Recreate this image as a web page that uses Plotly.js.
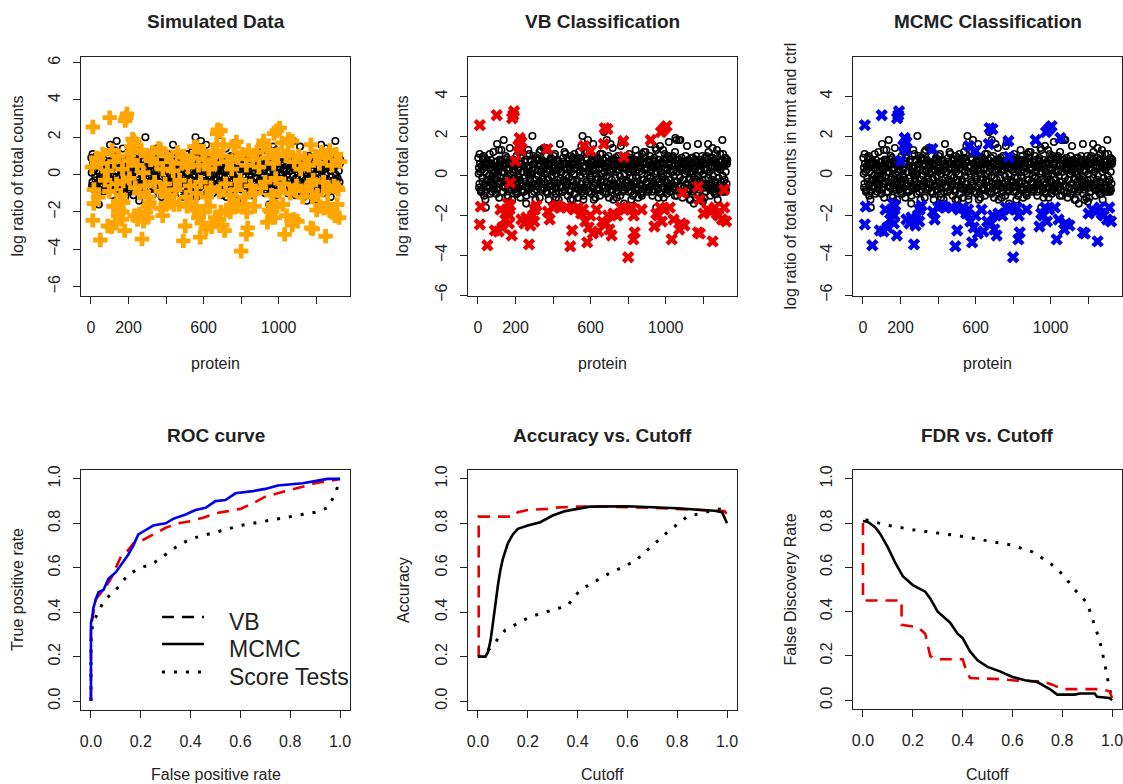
<!DOCTYPE html>
<html><head><meta charset="utf-8">
<script src="https://cdn.plot.ly/plotly-3.0.1.min.js"></script>
<style>html,body{margin:0;padding:0;background:#fff;}#chart{width:1123px;height:784px;}</style>
</head><body><div id="chart"></div>
<script>
// ---------------- DATA ----------------
// Non-differential proteins (index, log ratio)
const nullX = [2,6,9,13,18,21,25,30,33,37,42,45,49,54,57,61,66,69,73,78,
82,85,90,94,97,102,106,109,113,118,121,125,130,133,137,142,145,149,154,158,
161,166,170,173,178,182,185,190,194,197,202,206,209,214,218,221,226,230,233,238,
242,245,250,254,257,262,266,269,274,278,281,286,290,293,298,302,305,310,314,317,
322,326,329,334,338,341,346,350,353,358,362,365,370,374,377,382,386,389,394,398,
401,406,410,413,418,422,425,430,434,437,442,446,449,454,458,461,466,470,473,478,
482,485,490,494,497,502,506,509,514,518,521,526,530,533,538,542,545,550,554,557,
562,566,569,574,578,581,586,590,593,598,602,605,610,614,617,622,626,629,634,638,
641,646,650,653,658,662,665,670,674,677,682,686,689,694,698,701,706,710,713,718,
722,725,730,734,737,742,746,749,754,758,761,766,770,773,778,782,785,790,794,797,
802,806,809,814,818,821,826,830,833,838,842,845,850,854,857,862,866,869,874,878,
881,886,890,893,898,902,905,910,914,917,922,926,929,934,938,941,946,950,953,958,
962,965,970,974,977,982,986,989,994,998,1001,1006,1010,1013,1018,1022,1025,1030,1034,1037,
1042,1046,1049,1054,1058,1061,1066,1070,1073,1078,1082,1085,1090,1094,1097,1102,1106,1109,1114,1118,
1121,1126,1130,1133,1138,1142,1145,1150,1154,1157,1162,1166,1169,1174,1178,1181,1186,1190,1193,1198,
1202,1205,1210,1214,1217,1222,1226,1229,1234,1238,1241,1246,1250,1253,1258,1262,1265,1270,1274,1277,
1282,1285,1290,1294,1297,1302,1306,1309,1314,1318,1321,1326,
4,8,11,16,20,23,27,32,35,39,44,47,51,56,59,63,68,71,76,80,
84,88,92,96,100,104,108,111,116,120,123,128,132,135,140,144,147,152,156,160,
164,168,172,176,180,184,188,192,196,200,204,208,212,216,220,224,228,232,236,240,
244,248,252,256,260,264,268,272,276,280,284,288,292,296,300,304,308,312,316,320,
324,328,332,336,340,344,348,352,356,360,364,368,372,376,380,384,388,392,396,400,
404,408,412,416,420,424,428,432,436,440,444,448,452,456,460,464,468,472,476,480,
484,488,492,496,500,504,508,512,516,520,524,528,532,536,540,544,548,552,556,560,
564,568,572,576,580,584,588,592,596,600,604,608,612,616,620,624,628,632,636,640,
644,648,652,656,660,664,668,672,676,680,684,688,692,696,700,704,708,712,716,720,
724,728,732,736,740,744,748,752,756,760,764,768,772,776,780,784,788,792,796,800,
804,808,812,816,820,824,828,832,836,840,844,848,852,856,860,864,868,872,876,880,
884,888,892,896,900,904,908,912,916,920,924,928,932,936,940,944,948,952,956,960,
964,968,972,976,980,984,988,992,996,1000,1004,1008,1012,1016,1020,1024,1028,1032,1036,1040,
1044,1048,1052,1056,1060,1064,1068,1072,1076,1080,1084,1088,1092,1096,1100,1104,1108,1112,1116,1120,
1124,1128,1132,1136,1140,1144,1148,1152,1156,1160,1164,1168,1172,1176,1180,1184,1188,1192,1196,1200,
1204,1208,1212,1216,1220,1224,1228,1232,1236,1240,1244,1248,1252,1256,1260,1264,1268,1272,1276,1280,
1284,1288,1292,1296,1300,1304,1308,1312,1316,1320,1324,1328];
const nullY = [0.9,-0.6,1.1,0.2,-0.8,0.5,-0.3,1.0,-1.0,0.6,-1.6,0.1,-0.5,0.7,-0.2,0.4,-0.9,0.8,-0.4,0.3,
1.2,-0.7,0.5,-0.1,0.7,1.6,-0.6,0.3,-1.1,0.8,-0.3,1.3,0.2,-0.8,1.8,-0.5,0.6,-0.2,0.9,-1.0,
0.4,-0.6,1.4,-0.3,0.7,-1.2,0.2,0.8,-0.7,0.5,-0.4,1.0,-0.9,0.3,-0.1,0.6,-1.1,0.9,1.4,-0.5,
0.2,-0.8,0.7,-0.3,-1.4,0.5,0.1,-0.6,1.1,-0.2,0.8,-0.9,2.0,0.4,-1.6,0.6,-0.4,0.9,-0.7,0.3,
-0.5,0.8,-1.1,1.3,0.2,-0.6,0.7,1.4,-0.3,0.5,-0.8,1.0,-0.1,0.6,-1.2,0.3,-0.5,0.9,-0.7,0.4,
0.7,-0.4,1.1,-0.9,0.3,-0.2,0.8,-1.2,0.5,1.6,-0.6,0.2,-0.8,0.9,-0.3,0.6,1.1,-0.5,0.4,-1.0,
0.8,-0.7,0.3,-1.2,0.6,-0.2,0.9,-0.5,1.1,-0.9,0.4,-0.3,0.7,-1.1,1.2,0.2,-0.6,0.8,-0.4,2.0,
-1.2,0.5,-0.7,0.9,-0.3,1.2,1.8,-0.8,0.4,-0.1,0.7,-0.9,0.3,1.6,-0.5,0.8,-1.1,0.6,-0.2,0.9,
-0.6,0.4,-1.0,0.7,-0.3,1.1,-0.8,0.5,0.2,-0.6,0.9,1.8,-0.4,0.6,-1.1,0.3,-0.7,0.8,-0.2,1.4,
-1.2,0.6,-0.5,0.9,-0.8,0.3,1.0,-0.4,0.7,-1.0,0.5,1.7,-0.2,0.8,-1.4,0.4,-0.6,1.0,-0.3,0.6,
-0.8,0.7,-0.1,0.9,-0.5,0.3,-1.0,0.6,-0.3,0.8,-0.7,0.2,1.0,-1.1,0.5,-0.4,0.7,-0.9,1.1,-0.2,
0.6,-0.6,0.9,1.2,-0.3,0.4,-0.8,0.7,-0.1,1.0,-0.5,0.3,-1.0,0.8,-0.4,0.5,1.4,-1.6,0.2,-0.7,
0.8,-0.3,1.5,-0.9,0.4,-0.6,1.3,-1.1,0.6,-0.2,0.9,-0.7,0.3,1.0,-0.5,0.7,-0.8,0.2,-0.4,0.9,
-0.6,0.5,-1.0,0.8,1.8,-0.3,0.6,-0.8,0.4,1.8,-0.5,0.9,-1.1,0.3,-0.2,0.7,-0.9,0.5,1.5,-0.4,
0.8,-0.7,0.2,-1.2,0.6,-0.3,0.9,-1.4,0.4,-0.6,1.0,-0.2,0.7,-0.9,0.3,-0.5,0.8,-1.1,0.5,-1.3,
0.6,-0.4,0.9,-0.8,1.0,0.3,1.6,-0.6,0.7,-1.0,0.4,-0.2,1.4,-0.7,0.8,-0.5,1.1,-0.9,0.6,-1.2,
0.4,-0.6,1.1,-0.3,0.7,1.8,-0.8,0.5,-0.2,0.9,-0.7,0.6,
0.1,-0.4,0.6,-0.7,0.3,-0.1,0.8,-0.5,0.2,-0.8,0.5,-0.2,0.7,-0.6,0.0,0.4,-0.3,0.6,-0.8,0.1,
-0.5,0.3,-0.2,0.7,-0.7,0.0,0.5,-0.4,0.8,-0.1,0.4,-0.8,0.6,-0.3,0.2,-0.6,0.8,-0.1,0.3,-0.5,
0.7,-0.2,0.1,-0.7,0.5,-0.4,0.8,-0.1,0.3,-0.8,0.6,-0.3,0.0,-0.6,0.4,-0.2,0.7,-0.5,0.2,-0.8,
0.5,-0.1,0.8,-0.5,0.2,-0.7,0.4,0.0,-0.3,0.7,-0.6,0.1,-0.4,0.6,-0.8,0.3,-0.2,0.8,-0.5,0.0,
0.6,-0.3,0.2,-0.7,0.8,-0.1,0.4,-0.6,0.1,-0.4,0.7,-0.8,0.3,-0.2,0.5,-0.5,0.8,0.0,-0.7,0.2,
-0.3,0.5,-0.6,0.1,0.8,-0.4,0.3,-0.8,0.6,-0.1,0.2,-0.5,0.7,-0.2,0.4,-0.7,0.0,0.6,-0.4,0.8,
-0.1,0.4,-0.8,0.2,-0.5,0.7,-0.3,0.1,0.6,-0.6,0.8,-0.2,0.3,-0.7,0.5,0.0,-0.4,0.7,-0.8,0.2,
0.4,-0.6,0.1,-0.3,0.8,-0.5,0.2,0.6,-0.8,0.0,-0.2,0.5,-0.6,0.3,0.7,-0.4,0.1,-0.7,0.6,-0.1,
0.3,-0.7,0.6,-0.2,0.1,-0.5,0.8,-0.3,0.5,-0.8,0.0,0.4,-0.6,0.7,-0.1,0.2,-0.4,0.6,-0.7,0.3,
-0.4,0.8,-0.1,0.2,-0.6,0.5,-0.8,0.3,0.0,-0.3,0.7,-0.5,0.4,-0.7,0.1,0.6,-0.2,0.3,-0.6,0.8,
0.2,-0.5,0.5,-0.8,0.7,-0.1,0.3,-0.4,0.8,-0.6,0.0,-0.3,0.6,-0.7,0.2,0.4,-0.5,0.1,-0.8,0.7,
-0.2,0.3,-0.6,0.6,-0.4,0.0,0.8,-0.7,0.2,-0.1,0.5,-0.8,0.4,-0.3,0.7,-0.5,0.1,-0.2,0.6,-0.6,
0.5,-0.8,0.2,-0.4,0.7,-0.1,0.0,-0.6,0.4,0.8,-0.3,0.1,-0.7,0.6,-0.5,0.3,-0.2,0.8,-0.6,0.2,
0.0,-0.3,0.6,-0.7,0.2,0.5,-0.5,0.8,-0.1,0.3,-0.8,0.4,-0.2,0.7,-0.6,0.1,0.6,-0.4,0.2,-0.8,
0.4,-0.2,0.7,-0.5,0.1,-0.8,0.5,-0.1,0.3,-0.6,0.8,-0.3,0.0,0.6,-0.7,0.2,-0.4,0.7,-0.2,0.1,
-0.6,0.3,-0.2,0.6,-0.5,0.8,-0.1,0.2,-0.7,0.5,-0.4,0.7,0.0,-0.8,0.4,-0.3,0.6,-0.6,0.2,-0.1,
0.7,-0.5,0.3,-0.8,0.5,0.0,-0.3,0.6,-0.6,0.2,-0.4,0.8];

// Truly differential proteins not called by either method
const missX = [5,16,28,40,52,63,75,88,98,112,124,136,147,158,168,
205,217,228,236,247,258,268,279,288,296,307,318,328,339,350,
361,372,383,395,404,416,427,438,450,461,472,484,495,506,517,
528,540,551,562,573,584,595,606,617,628,639,651,661,672,684,
695,706,717,728,739,750,761,773,784,795,806,817,828,840,851,
862,873,884,895,906,917,928,939,950,962,973,984,995,1006,1017,
1028,1039,1050,1061,1072,1083,1095,1106,1117,1128,1139,1150,1161,1172,1184,
1195,1206,1217,1228,1239,1250,1262,1273,1284,1295,1306,1317,1327];
const missY = [0.4,-0.8,0.9,-1.2,0.6,1.1,-0.3,0.2,-0.9,1.3,0.7,-0.5,1.0,-1.1,0.3,
-0.2,1.2,1.8,-0.7,0.5,-1.0,1.3,0.1,-0.6,1.0,-1.2,0.8,1.2,-0.4,0.6,
1.4,-0.9,0.3,-0.5,1.0,-1.1,0.7,0.2,-0.8,1.2,-0.3,0.6,1.0,-1.2,0.4,
-0.6,0.9,1.5,-1.0,0.5,-0.4,1.2,0.8,-1.2,0.3,-0.7,1.1,0.6,2.2,-0.9,
1.0,1.6,-0.5,0.7,-1.1,0.3,1.5,-0.8,0.9,-0.3,1.1,-1.2,0.5,1.3,-0.6,
0.8,-1.0,1.2,0.4,-0.7,1.6,-0.4,0.9,1.3,-1.1,0.6,-0.2,1.1,-0.9,1.7,
-0.5,1.0,1.2,-1.0,1.8,0.7,-0.6,1.0,0.3,-1.2,0.9,-0.7,0.5,1.6,-0.3,
1.0,-1.1,0.6,1.2,-0.4,0.9,-0.9,1.3,0.5,-0.6,1.1,-0.8,0.7];

// Differential proteins called by both VB and MCMC
const calledX = [10,100,182,192,188,200,215,222,228,232,370,565,600,675,690,670,775,778,920,975,1005,990,
15,10,50,90,110,120,130,145,160,150,165,172,180,168,
232,248,258,272,280,292,302,312,300,
372,382,402,422,442,470,492,502,512,532,550,560,572,582,590,600,612,632,642,662,682,700,712,692,722,742,762,782,
800,810,820,830,828,835,872,940,960,950,970,980,992,1022,1032,1042,1072,1082,1100,1172,1182,1202,1222,1240,1250,1262,1272,1282,1300,1312,1322];
const calledY = [2.55,3.05,2.9,3.25,3.05,0.75,1.5,1.9,1.3,1.7,1.35,1.5,1.25,2.4,2.35,1.6,1.75,0.95,1.8,2.2,2.5,2.35,
-1.55,-2.45,-3.5,-2.75,-2.8,-1.7,-2.6,-2.2,-1.4,-1.9,-2.4,-1.5,-3.0,-2.0,
-2.2,-2.4,-2.1,-3.45,-2.5,-2.0,-1.7,-1.5,-2.3,
-1.8,-2.2,-1.6,-1.5,-1.6,-1.6,-3.55,-2.75,-1.7,-1.6,-1.9,-1.7,-2.3,-3.35,-2.6,-2.0,-2.9,-1.7,-2.8,-2.3,-2.4,-2.7,-3.0,-2.0,-1.9,-2.0,-1.6,-1.7,
-4.1,-1.7,-1.6,-2.0,-3.2,-2.85,-1.7,-2.55,-2.0,-1.9,-1.6,-2.3,-1.7,-1.6,-3.2,-2.2,-2.7,-2.4,-2.5,-2.85,-2.9,-1.9,-1.7,-1.8,-3.3,-1.6,-1.9,-2.0,-2.2,-1.6,-2.3];

// Called by VB only / by MCMC only
const vbOnlyX = [172,1090,1172,1312,1180];
const vbOnlyY = [-0.35,-0.85,-0.55,-0.7,-1.2];
const mcmcOnlyX = [1052];
const mcmcOnlyY = [1.9];

// ROC curves
const rocFprVB = [0,0,0.01,0.02,0.05,0.08,0.12,0.15,0.17,0.20,0.25,0.30,0.35,0.40,0.45,0.50,0.55,0.60,0.65,0.70,0.75,0.80,0.85,0.90,0.95,1.0];
const rocTprVB = [0,0.33,0.40,0.46,0.50,0.55,0.65,0.68,0.71,0.72,0.75,0.78,0.80,0.81,0.825,0.845,0.855,0.865,0.89,0.92,0.935,0.95,0.965,0.98,0.99,1.0];
const rocFprMCMC = [0,0,0.005,0.01,0.02,0.03,0.05,0.07,0.10,0.13,0.15,0.17,0.19,0.22,0.25,0.30,0.33,0.38,0.42,0.46,0.50,0.54,0.58,0.65,0.70,0.75,0.80,0.85,0.90,0.95,1.0];
const rocTprMCMC = [0,0.35,0.38,0.42,0.46,0.49,0.50,0.55,0.58,0.63,0.66,0.70,0.75,0.77,0.79,0.80,0.82,0.84,0.86,0.87,0.90,0.905,0.935,0.945,0.955,0.97,0.975,0.98,0.99,1.0,1.0];
const rocFprScore = [0,0,0.005,0.01,0.03,0.05,0.08,0.10,0.15,0.20,0.25,0.30,0.35,0.40,0.50,0.60,0.70,0.80,0.90,0.95,0.98,1.0];
const rocTprScore = [0,0.27,0.33,0.36,0.40,0.45,0.48,0.50,0.57,0.60,0.62,0.66,0.70,0.73,0.76,0.79,0.81,0.83,0.85,0.87,0.93,1.0];

// Accuracy vs cutoff
const accCutVB = [0,0.003,0.003,0.14,0.16,0.2,0.28,0.3,0.38,0.5,0.7,0.8,0.95,0.99,1.0];
const accVB = [0.2,0.2,0.83,0.83,0.85,0.86,0.865,0.87,0.875,0.875,0.87,0.865,0.86,0.855,0.84];
const accCutMCMC = [0,0.03,0.04,0.05,0.06,0.07,0.08,0.09,0.10,0.12,0.14,0.16,0.20,0.25,0.30,0.35,0.40,0.45,0.60,0.70,0.80,0.90,0.95,0.98,1.0];
const accMCMC = [0.2,0.2,0.22,0.27,0.35,0.45,0.52,0.59,0.64,0.71,0.75,0.775,0.79,0.805,0.835,0.855,0.865,0.875,0.877,0.873,0.868,0.86,0.857,0.85,0.80];
const accCutScore = [0,0.03,0.05,0.11,0.21,0.31,0.36,0.41,0.52,0.63,0.71,0.76,0.84,0.95,1.0];
const accScore = [0.2,0.22,0.24,0.32,0.38,0.415,0.43,0.5,0.57,0.63,0.71,0.76,0.83,0.86,0.87];

// FDR vs cutoff
const fdrCutVB = [0,0,0.155,0.155,0.22,0.25,0.26,0.27,0.29,0.40,0.41,0.43,0.55,0.62,0.72,0.76,0.80,0.95,0.99,1.0];
const fdrVB = [0.8,0.45,0.45,0.34,0.33,0.3,0.25,0.2,0.185,0.185,0.15,0.1,0.095,0.088,0.085,0.07,0.05,0.05,0.04,0.01];
const fdrCutMCMC = [0,0.02,0.05,0.07,0.1,0.13,0.16,0.2,0.25,0.27,0.3,0.35,0.38,0.4,0.43,0.46,0.5,0.55,0.6,0.65,0.7,0.75,0.78,0.85,0.87,0.93,0.94,0.99,1.0];
const fdrMCMC = [0.81,0.805,0.78,0.75,0.69,0.62,0.56,0.52,0.49,0.46,0.4,0.35,0.3,0.28,0.22,0.18,0.15,0.13,0.105,0.09,0.082,0.05,0.025,0.025,0.03,0.03,0.015,0.01,0.0];
const fdrCutScore = [0.01,0.1,0.2,0.3,0.4,0.5,0.6,0.68,0.75,0.8,0.85,0.9,0.93,0.95,0.97,0.99,1.0];
const fdrScore = [0.815,0.79,0.77,0.755,0.74,0.72,0.7,0.67,0.62,0.57,0.5,0.44,0.34,0.27,0.17,0.05,0.01];

const proteinTicks = [0,200,400,600,800,1000,1200];
const proteinTickText = ['0','200','','600','','1000',''];
const unitTicks = [0,0.2,0.4,0.6,0.8,1.0];
const legendNames = ['VB','MCMC','Score Tests'];

// ---------------- PLOT ----------------
const W = 1123, H = 784;
const FONT = 'Liberation Sans, Arial, Helvetica, sans-serif';
const INK = '#222';
const RED = '#e80000', BLUE = '#0000e8', ORANGE = '#FFA500';
const DASH = '12px,8px', DOT = '3px,9px';

const boxes = [[81,350,57,296],[468,737,57,296],[853,1122,57,296],
               [81,350,470,710],[468,737,470,710],[853,1122,470,709]];

const cat = (...a) => [].concat(...a);

const blackCircle = {symbol:'circle-open', size:6.5, color:'#000', line:{width:1.6, color:'#000'}};
function pts(x, y, ax, marker){ return {type:'scatter', mode:'markers', x:x, y:y, xaxis:'x'+ax, yaxis:'y'+ax, marker:marker, showlegend:false, hoverinfo:'skip'}; }
function ln(x, y, ax, color, width, dash){ return {type:'scatter', mode:'lines', x:x, y:y, xaxis:'x'+ax, yaxis:'y'+ax, line:{color:color, width:width, dash:dash}, showlegend:false, hoverinfo:'skip'}; }

const traces = [
  // Panel 1
  pts(cat(nullX), cat(nullY), '', blackCircle),
  pts(cat(missX, calledX, vbOnlyX, mcmcOnlyX), cat(missY, calledY, vbOnlyY, mcmcOnlyY), '', {symbol:'cross', size:12, color:ORANGE, line:{width:0}}),
  // Panel 2
  pts(cat(nullX, missX, mcmcOnlyX), cat(nullY, missY, mcmcOnlyY), '2', blackCircle),
  pts(cat(calledX, vbOnlyX), cat(calledY, vbOnlyY), '2', {symbol:'x', size:11, color:RED, line:{width:0}}),
  // Panel 3
  pts(cat(nullX, missX, vbOnlyX), cat(nullY, missY, vbOnlyY), '3', blackCircle),
  pts(cat(calledX, mcmcOnlyX), cat(calledY, mcmcOnlyY), '3', {symbol:'x', size:11, color:BLUE, line:{width:0}}),
  // Panel 4 ROC
  ln(rocFprScore, rocTprScore, '4', '#000', 3, DOT),
  ln(rocFprVB, rocTprVB, '4', RED, 2.6, DASH),
  ln(rocFprMCMC, rocTprMCMC, '4', BLUE, 2.6, 'solid'),
  // Panel 5 Accuracy
  ln(accCutScore, accScore, '5', '#000', 3, DOT),
  ln(accCutVB, accVB, '5', RED, 2.6, DASH),
  ln(accCutMCMC, accMCMC, '5', '#000', 2.6, 'solid'),
  // Panel 6 FDR
  ln(fdrCutScore, fdrScore, '6', '#000', 3, DOT),
  ln(fdrCutVB, fdrVB, '6', RED, 2.6, DASH),
  ln(fdrCutMCMC, fdrMCMC, '6', '#000', 2.6, 'solid')
];

const layout = {
  width: W, height: H, margin:{l:0,r:0,t:0,b:0}, paper_bgcolor:'#fff', plot_bgcolor:'#fff',
  font:{family:FONT, color:INK},
  showlegend: false,
  annotations: [], shapes: []
};

function axBase(){ return {showline:true, mirror:true, linecolor:INK, linewidth:1.2, ticks:'outside', ticklen:7, tickwidth:1, tickcolor:INK, showgrid:false, zeroline:false, fixedrange:true, ticklabeloverflow:'allow', ticklabelstandoff:6, tickfont:{size:16, family:FONT, color:INK}}; }

boxes.forEach((b, i) => {
  const k = i === 0 ? '' : String(i+1);
  const xa = axBase(), ya = axBase();
  xa.domain = [b[0]/W, b[1]/W]; xa.anchor = 'y'+k;
  ya.domain = [1-b[3]/H, 1-b[2]/H]; ya.anchor = 'x'+k;
  ya.tickangle = -90;
  xa.ticklabelstandoff = 10;
  if (i < 3) {
    xa.range = [-53, 1380]; xa.tickvals = proteinTicks; xa.ticktext = proteinTickText;
    if (i === 0) { ya.range = [-6.5, 6.3]; ya.tickvals = [-6,-4,-2,0,2,4,6]; }
    else { ya.range = [-6.05, 5.98]; ya.tickvals = [-6,-4,-2,0,2,4]; }
  } else {
    xa.range = [-0.04, 1.04]; ya.range = [-0.04, 1.04];
    xa.tickvals = unitTicks; ya.tickvals = unitTicks;
    xa.tickformat = '.1f'; ya.tickformat = '.1f';
  }
  layout['xaxis'+k] = xa; layout['yaxis'+k] = ya;
});

function txt(text, x, y, size, bold, angle, anchor){
  layout.annotations.push({text: bold ? '<b>'+text+'</b>' : text, x:x/W, y:1-y/H, xref:'paper', yref:'paper', xanchor:anchor||'center', yanchor:'middle', showarrow:false, textangle:angle||0, font:{size:size, family:FONT, color:INK}});
}
const titles = ['Simulated Data','VB Classification','MCMC Classification','ROC curve','Accuracy vs. Cutoff','FDR vs. Cutoff'];
const xTitles = ['protein','protein','protein','False positive rate','Cutoff','Cutoff'];
const yTitles = ['log ratio of total counts','log ratio of total counts','log ratio of total counts in trmt and ctrl','True positive rate','Accuracy','False Discovery Rate'];
const yTitleX = [17, 402, 790, 17, 403, 790];
boxes.forEach((b, i) => {
  const cx = (b[0]+b[1])/2, cy = (b[2]+b[3])/2;
  txt(titles[i], cx, i < 3 ? 21 : 435, 19, true);
  txt(xTitles[i], cx, i < 3 ? 363 : 774, 16, false);
  txt(yTitles[i], yTitleX[i], cy, 16, false, -90);
});

// Legend of the ROC panel (black line keys, as in the original)
const legDash = [DASH, 'solid', DOT];
const legLineY = [617, 644, 672];
const legTextY = [622, 649, 677];
legendNames.forEach((n, i) => {
  layout.shapes.push({type:'line', xref:'paper', yref:'paper', x0:162/W, x1:204/W, y0:1-legLineY[i]/H, y1:1-legLineY[i]/H, line:{color:'#000', width:i===2?3:2.6, dash:legDash[i]}});
  txt(n, 227, legTextY[i], 23, false, 0, 'left');
});

Plotly.newPlot('chart', traces, layout, {staticPlot:true, displayModeBar:false});
</script></body></html>
